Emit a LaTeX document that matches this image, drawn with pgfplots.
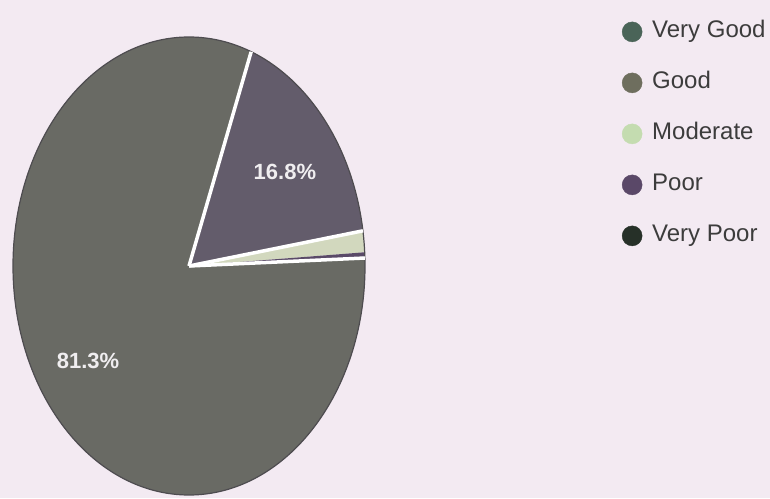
\documentclass[border=0pt]{standalone}
\usepackage{fontspec}
\setmainfont{Liberation Sans}
\usepackage{pgfplots}
\usepackage{pgfplotstable}
\pgfplotsset{compat=1.18}
\definecolor{bgcol}{HTML}{F3EAF2}
\definecolor{slice0}{HTML}{696A64}
\definecolor{slice1}{HTML}{635C6B}
\definecolor{slice2}{HTML}{D2D8BE}
\definecolor{slice3}{HTML}{5A4A68}
\definecolor{slice4}{HTML}{2E3530}
\definecolor{leg0}{HTML}{4A6458}
\definecolor{leg1}{HTML}{6E6E5E}
\definecolor{leg2}{HTML}{C4DCB0}
\definecolor{leg3}{HTML}{5A4868}
\definecolor{leg4}{HTML}{263028}
\definecolor{rimcol}{HTML}{4E4C50}
\definecolor{labelcol}{HTML}{F0EEF0}
\definecolor{legtext}{HTML}{3C3C3C}

\pgfplotstableread{
label value
VeryGood 81.3
Good 16.8
Moderate 1.5
Poor 0.3
VeryPoor 0.1
}\piedata

\begin{document}
\begin{tikzpicture}[x=1pt,y=1pt]
\path[use as bounding box, fill=bgcol] (0,0) rectangle (770,498);
% cumulative angles (clockwise, starting just above 3 o'clock)
\def\startangle{2}
\def\cum{0}
\pgfplotsforeachungrouped \i in {0,...,4}{%
  \pgfplotstablegetelem{\i}{value}\of\piedata
  \pgfmathsetmacro\st{\startangle-\cum*3.6}%
  \pgfmathsetmacro\cum{\cum+\pgfplotsretval}%
  \pgfmathsetmacro\en{\startangle-\cum*3.6}%
  \expandafter\xdef\csname sa\i\endcsname{\st}%
  \expandafter\xdef\csname ea\i\endcsname{\en}%
}
\begin{axis}[
  at={(189pt,232pt)}, anchor=center,
  width=352pt, height=458pt, scale only axis,
  xmin=-1, xmax=1, ymin=-1, ymax=1,
  axis lines=none, clip=false,
  legend cell align=left,
  legend style={draw=none, fill=none, inner sep=0pt,
    at={(axis description cs:1.730,1.040)}, anchor=north west,
    font=\fontsize{24}{26}\selectfont, text=legtext,
    row sep=25pt, column sep=8pt,
    nodes={inner sep=2pt, text height=17pt, text depth=5pt}},
]
\pgfplotsinvokeforeach{0,...,4}{
  \fill[slice#1] (axis cs:0,0) -- (axis cs:{cos(\csname sa#1\endcsname)},{sin(\csname sa#1\endcsname)})
    arc[start angle=\csname sa#1\endcsname, end angle=\csname ea#1\endcsname, x radius=176pt, y radius=229pt] -- cycle;
}
\draw[rimcol, line width=1.2pt] (axis cs:0,0) ellipse [x radius=176pt, y radius=229pt];
\pgfplotsinvokeforeach{0,1,2}{
  \draw[white, line width=3.5pt] (axis cs:0,0) -- (axis cs:{cos(\csname sa#1\endcsname)},{sin(\csname sa#1\endcsname)});
}
\node[font=\bfseries\fontsize{22}{24}\selectfont, text=labelcol] at (axis cs:0.545,0.410) {16.8\%};
\node[font=\bfseries\fontsize{22}{24}\selectfont, text=labelcol] at (axis cs:-0.574,-0.415) {81.3\%};
\addlegendimage{only marks, mark=*, mark size=10pt, color=leg0}
\addlegendentry{Very Good}
\addlegendimage{only marks, mark=*, mark size=10pt, color=leg1}
\addlegendentry{Good}
\addlegendimage{only marks, mark=*, mark size=10pt, color=leg2}
\addlegendentry{Moderate}
\addlegendimage{only marks, mark=*, mark size=10pt, color=leg3}
\addlegendentry{Poor}
\addlegendimage{only marks, mark=*, mark size=10pt, color=leg4}
\addlegendentry{Very Poor}
\end{axis}
\end{tikzpicture}
\end{document}
